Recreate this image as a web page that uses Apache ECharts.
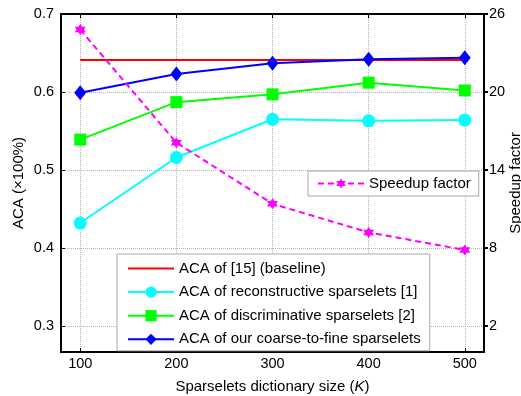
<!DOCTYPE html>
<html>
<head>
<meta charset="utf-8">
<script src="https://cdn.jsdelivr.net/npm/echarts@6/dist/echarts.min.js"></script>
<style>
  html, body { margin: 0; padding: 0; background: #fff; }
  #chart { width: 521px; height: 396px; }
</style>
</head>
<body>
<div id="chart"></div>
<script>
const dictSizes = [100, 200, 300, 400, 500]
const acaBaseline = [0.641, 0.641, 0.641, 0.641, 0.641]
const acaReconstructive = [0.432, 0.516, 0.565, 0.563, 0.564]
const acaDiscriminative = [0.539, 0.587, 0.597, 0.612, 0.602]
const acaCoarseToFine = [0.599, 0.623, 0.637, 0.642, 0.644]
const speedup = [24.8, 16.1, 11.4, 9.2, 7.85]

const xTicks = [100, 200, 300, 400, 500]
const acaTicks = [0.3, 0.4, 0.5, 0.6, 0.7]
const speedupTicks = [2, 8, 14, 20, 26]

const font = 'Liberation Sans, Arial, sans-serif'
const pairs = (ys) => dictSizes.map((x, i) => [x, ys[i]])
const star = 'path://M0,-10 L2.9,-5 L8.66,-5 L5.8,0 L8.66,5 L2.9,5 L0,10 L-2.9,5 L-8.66,5 L-5.8,0 L-8.66,-5 L-2.9,-5 Z'

const chart = echarts.init(document.getElementById('chart'), null, { renderer: 'canvas' })

const gridLine = { show: true, lineStyle: { type: 'dotted', color: '#b4b4b4', width: 1 } }
const boxLine = { show: true, onZero: false, lineStyle: { color: '#000', width: 2 } }
const tickStyle = { color: '#000', width: 1 }

chart.setOption({
  animation: false,
  textStyle: { fontFamily: font },
  grid: { left: 61, right: 37, top: 14, bottom: 44, outerBoundsMode: 'none', containLabel: false },
  legend: [
    {
      data: ['Speedup factor'],
      left: 308, top: 171,
      itemWidth: 46, itemHeight: 12,
      padding: [5, 8, 5, 9],
      backgroundColor: '#fff', borderColor: '#a8a8a8', borderWidth: 1,
      textStyle: { fontSize: 15, color: '#000', fontFamily: font },
    },
    {
      data: [
        { name: 'ACA of [15] (baseline)', itemStyle: { opacity: 0 } },
        'ACA of reconstructive sparselets [1]',
        'ACA of discriminative sparselets [2]',
        'ACA of our coarse-to-fine sparselets',
      ],
      orient: 'vertical',
      left: 117, top: 254,
      itemWidth: 46, itemHeight: 14, itemGap: 8.6,
      padding: [7, 9, 4, 10],
      backgroundColor: '#fff', borderColor: '#a8a8a8', borderWidth: 1,
      textStyle: { fontSize: 15, color: '#000', fontFamily: font },
    },
  ],
  xAxis: [
    {
      type: 'value', min: 80, max: 520, position: 'bottom',
      name: 'Sparselets dictionary size ({i|K})',
      nameLocation: 'middle', nameGap: 27, nameMoveOverlap: false,
      nameTextStyle: {
        fontSize: 15, color: '#000', fontFamily: font,
        rich: { i: { fontStyle: 'italic', fontSize: 15, fontFamily: font } },
      },
      axisLine: boxLine,
      axisTick: { inside: true, length: 4, customValues: xTicks, lineStyle: tickStyle },
      axisLabel: { customValues: xTicks, fontSize: 14.5, color: '#000', margin: 4 },
      splitLine: gridLine,
    },
    {
      type: 'value', min: 80, max: 520, position: 'top',
      axisLine: boxLine,
      axisTick: { inside: true, length: 4, customValues: xTicks, lineStyle: tickStyle },
      axisLabel: { show: false },
      splitLine: { show: false },
    },
  ],
  yAxis: [
    {
      type: 'value', min: 0.26667, max: 0.7, position: 'left',
      name: 'ACA (×100%)', nameLocation: 'middle', nameGap: 35, nameMoveOverlap: false,
      nameTextStyle: { fontSize: 15, color: '#000', fontFamily: font },
      axisLine: boxLine,
      axisTick: { inside: true, length: 4, customValues: acaTicks, lineStyle: tickStyle },
      axisLabel: {
        customValues: acaTicks, fontSize: 14.5, color: '#000', margin: 7,
        formatter: (v) => v.toFixed(1),
      },
      splitLine: gridLine,
    },
    {
      type: 'value', min: 0, max: 26, position: 'right',
      name: 'Speedup factor', nameLocation: 'middle', nameGap: 24, nameRotate: 90,
      nameMoveOverlap: false,
      nameTextStyle: { fontSize: 15, color: '#000', fontFamily: font },
      axisLine: boxLine,
      axisTick: { inside: false, length: 4, customValues: speedupTicks, lineStyle: { color: '#000', width: 2 } },
      axisLabel: { customValues: speedupTicks, fontSize: 14.5, color: '#000', margin: 5 },
      splitLine: { show: false },
    },
  ],
  series: [
    {
      name: 'ACA of [15] (baseline)', type: 'line', data: pairs(acaBaseline),
      symbol: 'none',
      lineStyle: { color: '#ff0000', width: 2 }, itemStyle: { color: '#ff0000' },
    },
    {
      name: 'ACA of reconstructive sparselets [1]', type: 'line', data: pairs(acaReconstructive),
      symbol: 'circle', symbolSize: 13,
      lineStyle: { color: '#00ffff', width: 2 }, itemStyle: { color: '#00ffff' },
    },
    {
      name: 'ACA of discriminative sparselets [2]', type: 'line', data: pairs(acaDiscriminative),
      symbol: 'rect', symbolSize: 12,
      lineStyle: { color: '#00ff00', width: 2 }, itemStyle: { color: '#00ff00' },
    },
    {
      name: 'ACA of our coarse-to-fine sparselets', type: 'line', data: pairs(acaCoarseToFine),
      symbol: 'diamond', symbolSize: [12, 15],
      lineStyle: { color: '#0000ff', width: 2 }, itemStyle: { color: '#0000ff' },
    },
    {
      name: 'Speedup factor', type: 'line', yAxisIndex: 1, data: pairs(speedup),
      symbol: star, symbolSize: 11,
      lineStyle: { color: '#ff00ff', width: 2, type: [6, 4] }, itemStyle: { color: '#ff00ff' },
    },
  ],
})
</script>
</body>
</html>
